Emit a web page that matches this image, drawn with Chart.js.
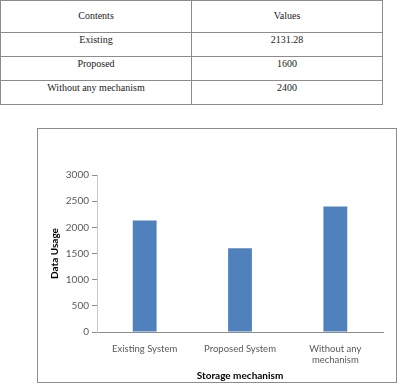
<!DOCTYPE html>
<html>
<head>
<meta charset="utf-8">
<script src="https://cdn.jsdelivr.net/npm/chart.js@4"></script>
<style>
    body { margin: 0; background: #fff; width: 402px; height: 389px; position: relative; overflow: hidden; }
    table { position: absolute; left: 0; top: 0; width: 383px; border-collapse: collapse;
            font-family: 'Liberation Serif', serif; font-size: 10px; color: #222; }
    td { border: 1px solid #8c8c8c; width: 50%; text-align: center; vertical-align: top; padding: 0; }
    .chart-box { position: absolute; left: 37px; top: 128px; width: 358px; height: 253px; border: 1px solid #8c8c8c; }
</style>
</head>
<body>
<table id="dataTable"></table>
<div class="chart-box"><canvas id="usageChart" width="358" height="253"></canvas></div>
<script>
// datos de la tabla y del grafico
const rowNames = ['Existing', 'Proposed', 'Without any mechanism'];
const rowValues = ['2131.28', '1600', '2400'];
const categories = [['Existing System'], ['Proposed System'], ['Without any', 'mechanism']];
const usage = [2131.28, 1600, 2400];
const yTicks = [0, 500, 1000, 1500, 2000, 2500, 3000];

// tabla de arriba
const table = document.getElementById('dataTable');
let html = '<tr style="height:32px"><td style="padding-top:9px">Contents</td><td style="padding-top:9px">Values</td></tr>';
rowNames.forEach((name, i) => {
    html += `<tr style="height:24px"><td style="padding-top:1px">${name}</td><td style="padding-top:1px">${rowValues[i]}</td></tr>`;
});
table.innerHTML = html;

const tickFont = { family: 'Lato', size: 9.5 };

new Chart(document.getElementById('usageChart'), {
    type: 'bar',
    data: {
        labels: categories,
        datasets: [{
            data: usage,
            backgroundColor: '#4F81BD',
            barPercentage: 0.25,
            categoryPercentage: 1
        }]
    },
    options: {
        responsive: false,
        animation: false,
        layout: { padding: { top: 46, right: 13, left: 7, bottom: 0 } },
        plugins: { legend: { display: false }, tooltip: { enabled: false } },
        scales: {
            x: {
                grid: { display: false, drawTicks: false },
                border: { display: true, color: '#8c8c8c' },
                ticks: { color: '#595959', font: tickFont, padding: 11, maxRotation: 0 },
                title: { display: true, text: 'Storage mechanism', color: '#000',
                         font: { family: 'Lato', size: 10, weight: 'bold' }, padding: 0 },
                afterFit: s => { s.height = 50; }
            },
            y: {
                min: 0,
                max: 3000,
                afterBuildTicks: s => { s.ticks = yTicks.map(v => ({ value: v })); },
                grid: { drawOnChartArea: false, drawTicks: true, tickLength: 5, color: '#8c8c8c' },
                border: { display: true, color: '#c8c8c8' },
                ticks: { color: '#595959', font: { family: 'Lato', size: 10 }, padding: 3,
                         callback: v => String(v) },
                title: { display: true, text: 'Data Usage', color: '#000',
                         font: { family: 'Lato', size: 10, weight: 'bold' }, padding: 4 },
                afterFit: s => { s.width = 52; }
            }
        }
    }
});
</script>
</body>
</html>
